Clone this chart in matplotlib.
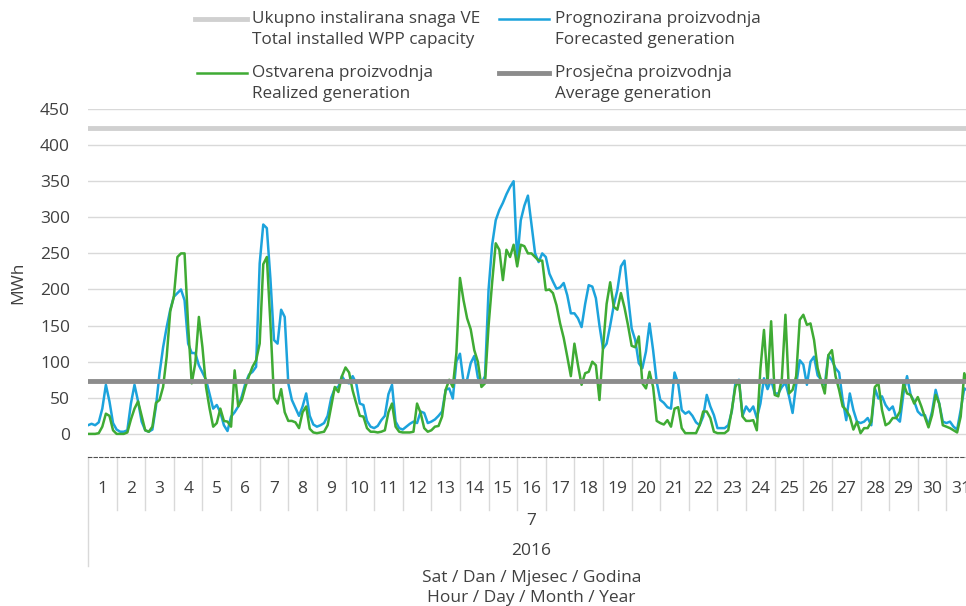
import numpy as np
import matplotlib
matplotlib.use('Agg')
import matplotlib.pyplot as plt
from matplotlib.lines import Line2D
from matplotlib.transforms import blended_transform_factory

plt.rcParams['font.family'] = ['Open Sans', 'DejaVu Sans']

# podaci: srpanj 2016, vrijednosti svaka 3 sata (00, 03, ... 21 h)
days = list(range(1, 32))
month_label = '7'
year_label = '2016'
capacity = 424
average = 73

forecast = [
    12, 14, 12, 16, 35, 68, 45, 15,
    6, 3, 3, 5, 42, 68, 45, 17,
    5, 3, 6, 38, 84, 120, 148, 172,
    190, 195, 200, 185, 125, 112, 112, 95,
    85, 75, 55, 35, 40, 30, 12, 4,
    24, 30, 38, 52, 70, 82, 86, 93,
    236, 290, 285, 215, 130, 125, 172, 162,
    70, 47, 36, 25, 38, 56, 25, 13,
    10, 12, 15, 25, 50, 63, 65, 80,
    72, 70, 80, 70, 42, 40, 18, 10,
    8, 11, 19, 25, 55, 68, 17, 8,
    6, 10, 14, 17, 15, 31, 29, 15,
    17, 20, 25, 31, 61, 63, 49, 100,
    111, 72, 75, 98, 108, 78, 70, 80,
    200, 262, 296, 310, 320, 332, 342, 350,
    240, 296, 316, 330, 290, 250, 238, 250,
    245, 222, 211, 201, 203, 209, 192, 167,
    167, 160, 148, 180, 206, 204, 188, 150,
    118, 125, 150, 178, 199, 232, 240, 190,
    146, 130, 98, 91, 114, 153, 116, 72,
    47, 43, 37, 35, 85, 70, 33, 28,
    31, 25, 16, 12, 24, 54, 38, 26,
    8, 8, 8, 12, 31, 70, 75, 25,
    38, 31, 38, 22, 42, 77, 62, 75,
    56, 56, 65, 71, 52, 29, 68, 102,
    96, 68, 100, 107, 81, 75, 68, 109,
    102, 91, 85, 47, 19, 56, 33, 17,
    15, 17, 22, 12, 63, 49, 52, 40,
    33, 38, 22, 17, 56, 80, 54, 45,
    31, 26, 26, 12, 31, 61, 42, 17,
    15, 17, 10, 6, 33, 63, 60, 50,
]

realized = [
    0, 0, 0, 1, 10, 28, 25, 5,
    0, 0, 0, 2, 20, 35, 45, 25,
    5, 3, 10, 43, 47, 65, 107, 170,
    190, 245, 250, 250, 150, 70, 98, 162,
    120, 65, 35, 10, 15, 35, 18, 17,
    10, 88, 38, 47, 65, 80, 93, 102,
    125, 235, 245, 153, 50, 42, 62, 30,
    18, 18, 16, 8, 30, 38, 7, 2,
    1, 2, 3, 12, 38, 65, 58, 80,
    92, 85, 60, 42, 25, 24, 8, 3,
    3, 2, 3, 5, 30, 42, 10, 3,
    2, 2, 2, 3, 42, 29, 8, 3,
    5, 10, 11, 24, 61, 75, 65, 112,
    216, 185, 160, 145, 116, 100, 65, 70,
    150, 210, 264, 255, 213, 255, 245, 262,
    232, 262, 260, 250, 250, 245, 240, 240,
    199, 200, 195, 178, 153, 133, 107, 80,
    125, 95, 68, 84, 86, 100, 95, 47,
    120, 180, 210, 176, 172, 195, 175, 150,
    122, 120, 135, 70, 63, 86, 65, 18,
    15, 13, 19, 10, 35, 37, 8, 1,
    1, 1, 1, 12, 31, 31, 22, 3,
    1, 1, 1, 5, 33, 65, 74, 24,
    18, 18, 19, 5, 90, 144, 70, 156,
    54, 52, 77, 165, 56, 61, 80, 158,
    165, 151, 153, 130, 91, 73, 56, 109,
    116, 80, 61, 38, 33, 24, 6, 17,
    1, 8, 8, 17, 65, 70, 33, 12,
    15, 22, 22, 31, 70, 56, 54, 42,
    51, 38, 23, 9, 26, 54, 42, 12,
    10, 8, 5, 2, 24, 84, 70, 55,
]

labels = [
    ('Ukupno instalirana snaga VE', 'Total installed WPP capacity'),
    ('Prognozirana proizvodnja', 'Forecasted generation'),
    ('Ostvarena proizvodnja', 'Realized generation'),
    ('Prosječna proizvodnja', 'Average generation'),
]

c_cap = '#d0d0d0'
c_fc = '#1ca3dc'
c_re = '#3fab34'
c_avg = '#8c8c8c'
c_txt = '#404040'
fs = 12.5
fs_leg = 12.3

W, H = 966, 606
fig = plt.figure(figsize=(W / 100, H / 100), dpi=100)


def fx(px):
    return px / W


def fy(py):
    return 1 - py / H


ax = fig.add_axes([fx(88), fy(457), fx(975 - 88), (457 - 109) / H])

hours = np.arange(len(forecast)) * 3
x = hours / 24.0

ax.axhline(capacity, color=c_cap, lw=3.5, zorder=2)
ax.plot(x, forecast, color=c_fc, lw=1.8, zorder=3)
ax.plot(x, realized, color=c_re, lw=1.8, zorder=4)
ax.axhline(average, color=c_avg, lw=3.5, zorder=5)

ax.set_xlim(0, 31)
ax.set_ylim(-32, 450)
ax.set_yticks(range(0, 451, 50))
ax.set_xticks([])
ax.yaxis.grid(True, color='#d9d9d9', lw=1)
ax.set_axisbelow(True)
ax.tick_params(axis='y', length=0, pad=13, labelsize=fs, labelcolor=c_txt)
for s in ['top', 'right', 'left']:
    ax.spines[s].set_visible(False)
ax.spines['bottom'].set_linestyle((0, (3, 2)))
ax.spines['bottom'].set_color('#505050')
ax.spines['bottom'].set_linewidth(0.8)

fig.text(fx(18), fy(283), 'MWh', rotation=90, ha='center', va='center',
         fontsize=fs, color=c_txt)

# kategorijska os: dan / mjesec / godina
trans = blended_transform_factory(ax.transData, fig.transFigure)
for d in days:
    ax.text(d - 0.5, fy(489), str(d), transform=trans, ha='center',
            va='center', fontsize=fs, color=c_txt)
for k in range(0, 32):
    bottom = 566 if k == 0 else 510
    ax.plot([k, k], [fy(457), fy(bottom)], transform=trans, color='#d9d9d9',
            lw=1, clip_on=False)
ax.text(15.5, fy(521), month_label, transform=trans, ha='center', va='center',
        fontsize=fs, color=c_txt)
ax.text(15.5, fy(551), year_label, transform=trans, ha='center', va='center',
        fontsize=fs, color=c_txt)
ax.text(15.5, fy(578), 'Sat / Dan / Mjesec / Godina', transform=trans,
        ha='center', va='center', fontsize=fs, color=c_txt)
ax.text(15.5, fy(598), 'Hour / Day / Month / Year', transform=trans,
        ha='center', va='center', fontsize=fs, color=c_txt)

# legenda
legend_items = [
    (labels[0], c_cap, 3.5, 195, 247, 252, 19),
    (labels[1], c_fc, 1.8, 499, 549, 555, 19),
    (labels[2], c_re, 1.8, 197, 247, 252, 73),
    (labels[3], c_avg, 3.5, 499, 549, 555, 73),
]
for (l1, l2), col, lw, x0, x1, tx, ty in legend_items:
    fig.add_artist(Line2D([fx(x0), fx(x1)], [fy(ty), fy(ty)], color=col,
                          lw=lw, transform=fig.transFigure))
    fig.text(fx(tx), fy(ty), l1, ha='left', va='center', fontsize=fs_leg,
             color=c_txt)
    fig.text(fx(tx), fy(ty + 21), l2, ha='left', va='center',
             fontsize=fs_leg, color=c_txt)

fig.savefig('out.png', dpi=100)
